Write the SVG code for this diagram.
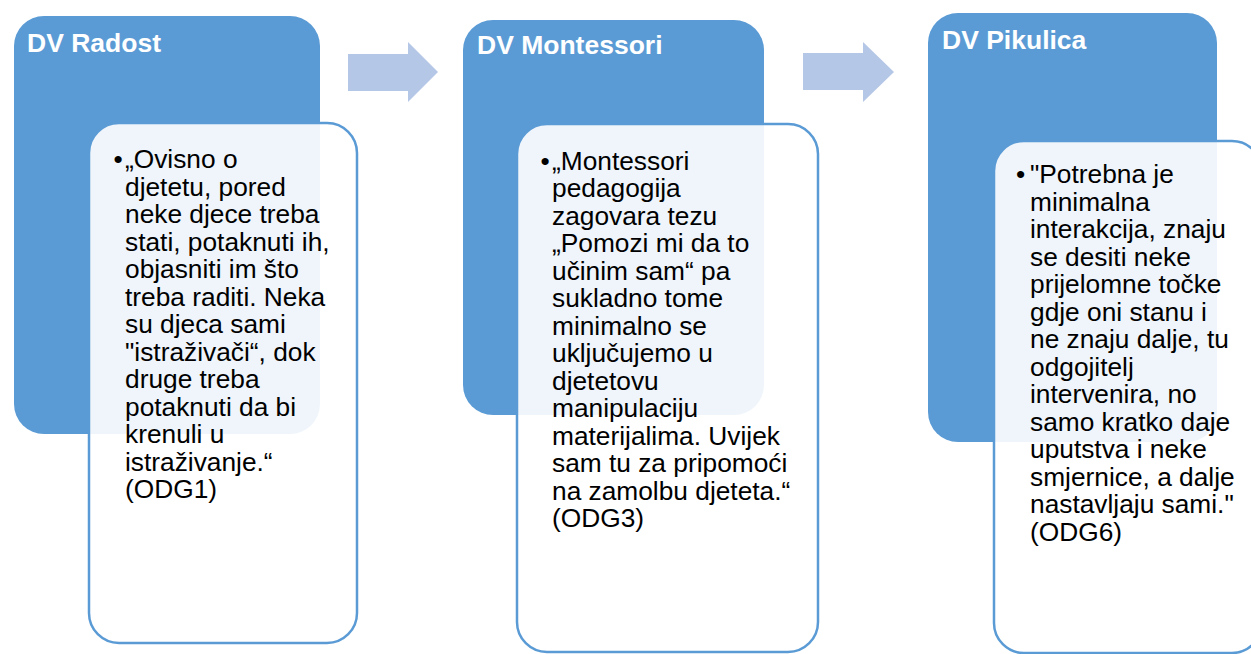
<svg xmlns="http://www.w3.org/2000/svg" width="1251" height="654" viewBox="0 0 1251 654">
  <style>
    .outer { fill: #5b9bd5; }
    .inner { fill: #ffffff; fill-opacity: 0.9; stroke: #5b9bd5; stroke-width: 2.5; }
    .title { font-family: "Liberation Sans", Arial, sans-serif; font-weight: bold; font-size: 26.5px; fill: #ffffff; }
    .body { font-family: "Liberation Sans", Arial, sans-serif; font-size: 26.3px; fill: #000000; }
    .arrow { fill: #b4c7e7; }
  </style>
  <rect width="1251" height="654" fill="#ffffff"/>
  <g id="connectors">
    <polygon class="arrow" points="348,54 408,54 408,42 438,72 408,102 408,91 348,91"/>
    <polygon class="arrow" points="803,53 863,53 863,42 894,72 863,102 863,90 803,90"/>
  </g>
  <g id="node-radost">
    <rect class="outer" x="14" y="16" width="306" height="418" rx="30" ry="30"/>
    <text class="title" x="27" y="52">DV Radost</text>
    <rect class="inner" x="89" y="123" width="268" height="520" rx="30" ry="30"/>
    <text class="body" x="113.5" y="168">•</text>
    <text class="body" x="125" y="168">
      <tspan x="125" y="168">„Ovisno o</tspan>
      <tspan x="125" dy="27.5">djetetu, pored</tspan>
      <tspan x="125" dy="27.5">neke djece treba</tspan>
      <tspan x="125" dy="27.5">stati, potaknuti ih,</tspan>
      <tspan x="125" dy="27.5">objasniti im što</tspan>
      <tspan x="125" dy="27.5">treba raditi. Neka</tspan>
      <tspan x="125" dy="27.5">su djeca sami</tspan>
      <tspan x="125" dy="27.5">"istraživači“, dok</tspan>
      <tspan x="125" dy="27.5">druge treba</tspan>
      <tspan x="125" dy="27.5">potaknuti da bi</tspan>
      <tspan x="125" dy="27.5">krenuli u</tspan>
      <tspan x="125" dy="27.5">istraživanje.“</tspan>
      <tspan x="125" dy="27.5">(ODG1)</tspan>
    </text>
  </g>
  <g id="node-montessori">
    <rect class="outer" x="463" y="20" width="301" height="395" rx="30" ry="30"/>
    <text class="title" x="477" y="54">DV Montessori</text>
    <rect class="inner" x="517" y="124" width="301" height="528" rx="30" ry="30"/>
    <text class="body" x="540.5" y="169.5">•</text>
    <text class="body" x="552" y="169.5">
      <tspan x="552" y="169.5">„Montessori</tspan>
      <tspan x="552" dy="27.5">pedagogija</tspan>
      <tspan x="552" dy="27.5">zagovara tezu</tspan>
      <tspan x="552" dy="27.5">„Pomozi mi da to</tspan>
      <tspan x="552" dy="27.5">učinim sam“ pa</tspan>
      <tspan x="552" dy="27.5">sukladno tome</tspan>
      <tspan x="552" dy="27.5">minimalno se</tspan>
      <tspan x="552" dy="27.5">uključujemo u</tspan>
      <tspan x="552" dy="27.5">djetetovu</tspan>
      <tspan x="552" dy="27.5">manipulaciju</tspan>
      <tspan x="552" dy="27.5">materijalima. Uvijek</tspan>
      <tspan x="552" dy="27.5">sam tu za pripomoći</tspan>
      <tspan x="552" dy="27.5">na zamolbu djeteta.“</tspan>
      <tspan x="552" dy="27.5">(ODG3)</tspan>
    </text>
  </g>
  <g id="node-pikulica">
    <rect class="outer" x="928" y="13" width="289" height="429" rx="30" ry="30"/>
    <text class="title" x="942" y="49">DV Pikulica</text>
    <rect class="inner" x="994" y="141" width="268" height="512" rx="30" ry="30"/>
    <text class="body" x="1016" y="183">•</text>
    <text class="body" x="1030" y="183">
      <tspan x="1030" y="183">"Potrebna je</tspan>
      <tspan x="1030" dy="27.5">minimalna</tspan>
      <tspan x="1030" dy="27.5">interakcija, znaju</tspan>
      <tspan x="1030" dy="27.5">se desiti neke</tspan>
      <tspan x="1030" dy="27.5">prijelomne točke</tspan>
      <tspan x="1030" dy="27.5">gdje oni stanu i</tspan>
      <tspan x="1030" dy="27.5">ne znaju dalje, tu</tspan>
      <tspan x="1030" dy="27.5">odgojitelj</tspan>
      <tspan x="1030" dy="27.5">intervenira, no</tspan>
      <tspan x="1030" dy="27.5">samo kratko daje</tspan>
      <tspan x="1030" dy="27.5">uputstva i neke</tspan>
      <tspan x="1030" dy="27.5">smjernice, a dalje</tspan>
      <tspan x="1030" dy="27.5">nastavljaju sami."</tspan>
      <tspan x="1030" dy="27.5">(ODG6)</tspan>
    </text>
  </g>
</svg>
